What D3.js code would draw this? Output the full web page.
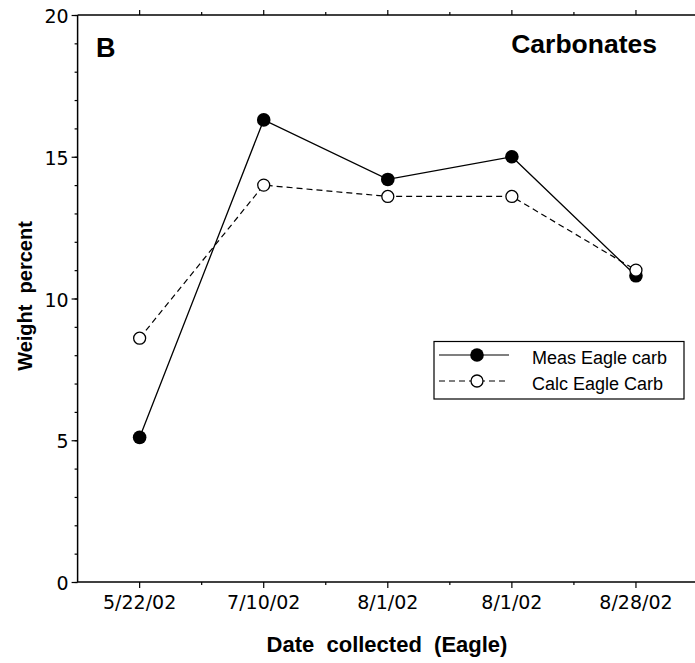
<!DOCTYPE html>
<html><head><meta charset="utf-8">
<script src="https://cdn.jsdelivr.net/npm/d3@7"></script>
<style>html,body{margin:0;padding:0;background:#fff;overflow:hidden}svg{display:block}</style>
</head><body>
<script>
const categories = ["5/22/02","7/10/02","8/1/02","8/1/02","8/28/02"];
const measEagleCarb = [5.1, 16.3, 14.2, 15.0, 10.8];
const calcEagleCarb = [8.6, 14.0, 13.6, 13.6, 11.0];
const yTicks = [0,5,10,15,20];
const seriesNames = ["Meas Eagle carb","Calc Eagle Carb"];

const W=695,H=663;
const L=77.6,R=698,T=15,B=582;
const svg=d3.select("body").append("svg").attr("width",W).attr("height",H);

const x=d3.scaleBand().domain(d3.range(categories.length)).range([L,R]).padding(0);
const xc=i=>x(i)+x.bandwidth()/2;
const y=d3.scaleLinear().domain([0,20]).range([B,T]);

const tickFont="'DejaVu Sans', sans-serif";
svg.append("line").attr("x1",L).attr("x2",R).attr("y1",T).attr("y2",T).attr("stroke","#000").attr("stroke-width",1.5);
svg.append("line").attr("x1",L).attr("x2",R).attr("y1",B).attr("y2",B).attr("stroke","#000").attr("stroke-width",1.5);
svg.append("line").attr("x1",L).attr("x2",L).attr("y1",T).attr("y2",B).attr("stroke","#000").attr("stroke-width",1.5);

// left axis
const gy=svg.append("g").attr("transform",`translate(${L},0)`);
gy.call(d3.axisLeft(y).tickValues(d3.range(0,21,1)).tickSize(3).tickFormat(""));
gy.select(".domain").remove();
const gy2=svg.append("g").attr("transform",`translate(${L},0)`);
gy2.call(d3.axisLeft(y).tickValues(yTicks).tickSize(6).tickPadding(3).tickFormat(d3.format("d")));
gy2.select(".domain").remove();
gy2.selectAll("text").attr("font-family",tickFont).attr("font-size",19).attr("fill","#000").attr("dy","0.4em");

// bottom / top axes: major ticks at category centres, minor at boundaries
const bounds=d3.range(1,categories.length).map(i=>x(i));
const gb=svg.append("g").attr("transform",`translate(0,${B})`);
gb.selectAll("line").data(bounds).enter().append("line")
  .attr("x1",d=>d).attr("x2",d=>d).attr("y1",0).attr("y2",3).attr("stroke","#000").attr("stroke-width",1.2);
const gb2=svg.append("g").attr("transform",`translate(0,${B})`);
gb2.call(d3.axisBottom(x).tickSize(6).tickPadding(8).tickFormat(i=>categories[i]));
gb2.select(".domain").remove();
gb2.selectAll("text").attr("font-family",tickFont).attr("font-size",19).attr("fill","#000");
const gt=svg.append("g").attr("transform",`translate(0,${T})`);
gt.selectAll("line").data(bounds).enter().append("line")
  .attr("x1",d=>d).attr("x2",d=>d).attr("y1",0).attr("y2",-3).attr("stroke","#000").attr("stroke-width",1.2);
const gt2=svg.append("g").attr("transform",`translate(0,${T})`);
gt2.call(d3.axisTop(x).tickSize(5).tickFormat(""));
gt2.select(".domain").remove();
svg.selectAll(".tick line").attr("stroke","#000").attr("stroke-width",1.2);

// series
const line=d3.line().x((d,i)=>xc(i)).y(d=>y(d));
svg.append("path").datum(calcEagleCarb).attr("d",line).attr("fill","none")
  .attr("stroke","#000").attr("stroke-width",1.2).attr("stroke-dasharray","6,4");
svg.append("path").datum(measEagleCarb).attr("d",line).attr("fill","none")
  .attr("stroke","#000").attr("stroke-width",1.3);
svg.selectAll("circle.meas").data(measEagleCarb).enter().append("circle").attr("class","meas")
  .attr("cx",(d,i)=>xc(i)).attr("cy",d=>y(d)).attr("r",6.8).attr("fill","#000");
svg.selectAll("circle.calc").data(calcEagleCarb).enter().append("circle").attr("class","calc")
  .attr("cx",(d,i)=>xc(i)).attr("cy",d=>y(d)).attr("r",6).attr("fill","#fff")
  .attr("stroke","#000").attr("stroke-width",1.3);

// texts
const lab="'Liberation Sans', Arial, sans-serif";
svg.append("text").attr("x",96).attr("y",57).attr("font-family",lab).attr("font-weight","bold")
  .attr("font-size",27).text("B");
svg.append("text").attr("x",657).attr("y",53).attr("text-anchor","end").attr("font-family",lab)
  .attr("font-weight","bold").attr("font-size",26.5).text("Carbonates");
svg.append("text").attr("x",387).attr("y",652).attr("text-anchor","middle")
  .attr("font-family",lab).attr("font-weight","bold").attr("font-size",22)
  .style("white-space","pre").text("Date  collected  (Eagle)");
svg.append("text").attr("transform","translate(32,296) rotate(-90)").attr("text-anchor","middle")
  .attr("font-family",lab).attr("font-weight","bold").attr("font-size",20)
  .style("white-space","pre").text("Weight  percent");

// legend
const lg=svg.append("g");
lg.append("rect").attr("x",434).attr("y",341.5).attr("width",250).attr("height",57.5)
  .attr("fill","#fff").attr("stroke","#000").attr("stroke-width",1.2);
const rows=[{y:355,dash:null,fill:"#000",r:6.8},{y:381,dash:"6,4",fill:"#fff",r:6}];
rows.forEach((rw,k)=>{
  lg.append("line").attr("x1",439).attr("x2",509).attr("y1",rw.y).attr("y2",rw.y)
    .attr("stroke","#000").attr("stroke-width",1.2).attr("stroke-dasharray",rw.dash);
  lg.append("circle").attr("cx",477).attr("cy",rw.y).attr("r",rw.r).attr("fill",rw.fill)
    .attr("stroke","#000").attr("stroke-width",k?1.3:0);
  lg.append("text").attr("x",532).attr("y",rw.y+8.5).attr("font-family",lab)
    .attr("font-size",18).text(seriesNames[k]);
});
</script>
</body></html>
